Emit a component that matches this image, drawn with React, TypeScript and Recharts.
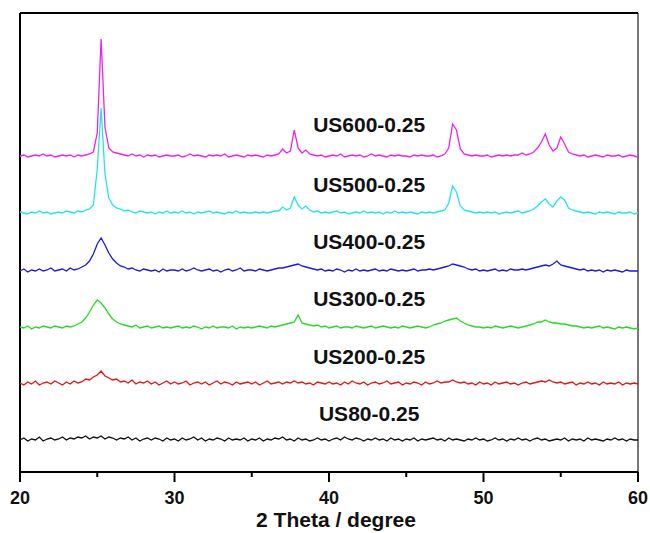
import { LineChart, Line, XAxis, YAxis, ReferenceLine, ReferenceDot } from "recharts";

// 2θ sampling grid (degree)
const angles = [
  20, 20.25, 20.5, 20.75, 21, 21.25, 21.5, 21.75, 22, 22.25, 22.5, 22.75, 23, 23.25, 23.5, 23.75, 24, 24.25, 24.5, 24.75,
  25, 25.25, 25.5, 25.75, 26, 26.25, 26.5, 26.75, 27, 27.25, 27.5, 27.75, 28, 28.25, 28.5, 28.75, 29, 29.25, 29.5, 29.75,
  30, 30.25, 30.5, 30.75, 31, 31.25, 31.5, 31.75, 32, 32.25, 32.5, 32.75, 33, 33.25, 33.5, 33.75, 34, 34.25, 34.5, 34.75,
  35, 35.25, 35.5, 35.75, 36, 36.25, 36.5, 36.75, 37, 37.25, 37.5, 37.75, 38, 38.25, 38.5, 38.75, 39, 39.25, 39.5, 39.75,
  40, 40.25, 40.5, 40.75, 41, 41.25, 41.5, 41.75, 42, 42.25, 42.5, 42.75, 43, 43.25, 43.5, 43.75, 44, 44.25, 44.5, 44.75,
  45, 45.25, 45.5, 45.75, 46, 46.25, 46.5, 46.75, 47, 47.25, 47.5, 47.75, 48, 48.25, 48.5, 48.75, 49, 49.25, 49.5, 49.75,
  50, 50.25, 50.5, 50.75, 51, 51.25, 51.5, 51.75, 52, 52.25, 52.5, 52.75, 53, 53.25, 53.5, 53.75, 54, 54.25, 54.5, 54.75,
  55, 55.25, 55.5, 55.75, 56, 56.25, 56.5, 56.75, 57, 57.25, 57.5, 57.75, 58, 58.25, 58.5, 58.75, 59, 59.25, 59.5, 59.75,
  60,
];

// intensities above each pattern's own baseline (a.u.)
const us600 = [
  1, 2, 0, 1, 2, 1, 3, 1, 2, 0, 1, 2, 1, 2, 0, 2, 1, 2, 3, 5,
  24, 118, 30, 9, 5, 4, 3, 2, 1, 3, 1, 2, 0, 2, 1, 2, 0, 1, 2, 1,
  1, 2, 0, 1, 3, 1, 2, 1, 0, 2, 1, 2, 1, 3, 0, 1, 2, 1, 0, 2,
  1, 2, 1, 0, 2, 1, 2, 3, 8, 4, 6, 27, 9, 4, 7, 3, 2, 1, 2, 0,
  1, 2, 1, 3, 0, 1, 2, 1, 2, 0, 1, 3, 1, 2, 1, 0, 2, 1, 2, 1,
  1, 0, 2, 1, 2, 1, 1, 2, 0, 1, 3, 9, 33, 27, 8, 3, 2, 1, 2, 1,
  1, 2, 0, 1, 2, 1, 2, 1, 2, 2, 4, 2, 3, 5, 9, 15, 23, 12, 6, 9,
  20, 13, 5, 3, 2, 1, 2, 0, 1, 2, 1, 0, 2, 1, 1, 2, 0, 1, 2, 1,
  0,
];
const us500 = [
  2, 1, 0, 2, 1, 3, 1, 2, 0, 1, 2, 1, 3, 2, 1, 3, 2, 4, 5, 9,
  45, 106, 40, 16, 9, 6, 5, 3, 4, 2, 1, 3, 2, 1, 2, 0, 2, 1, 3, 1,
  2, 1, 3, 1, 2, 0, 2, 1, 2, 3, 1, 2, 1, 0, 2, 1, 3, 1, 2, 1,
  1, 2, 1, 2, 1, 2, 3, 3, 7, 4, 6, 17, 9, 5, 8, 4, 2, 3, 1, 2,
  1, 2, 3, 1, 2, 0, 1, 2, 1, 3, 1, 2, 1, 2, 0, 2, 1, 3, 1, 2,
  1, 2, 1, 0, 2, 1, 2, 1, 2, 3, 4, 11, 28, 22, 8, 4, 3, 2, 1, 2,
  1, 2, 1, 2, 0, 1, 2, 1, 2, 3, 1, 2, 3, 5, 8, 12, 15, 10, 7, 13,
  17, 14, 6, 4, 3, 2, 1, 2, 1, 0, 2, 1, 2, 1, 0, 2, 1, 1, 2, 0,
  1,
];
const us400 = [
  1, 3, 0, 2, 1, 3, 1, 2, 4, 1, 2, 3, 1, 4, 2, 3, 5, 7, 11, 18,
  28, 34, 27, 19, 13, 9, 6, 5, 3, 4, 2, 1, 3, 2, 1, 2, 0, 3, 1, 2,
  2, 1, 3, 1, 2, 4, 2, 1, 2, 3, 1, 2, 0, 2, 3, 1, 2, 4, 1, 2,
  2, 1, 3, 2, 1, 2, 3, 4, 4, 5, 6, 7, 8, 6, 5, 4, 3, 2, 3, 1,
  2, 1, 3, 2, 0, 2, 1, 3, 1, 2, 1, 2, 3, 1, 2, 1, 3, 2, 1, 2,
  1, 2, 3, 1, 2, 2, 3, 2, 3, 4, 5, 6, 8, 7, 6, 5, 3, 2, 3, 1,
  2, 1, 2, 3, 1, 2, 1, 3, 2, 2, 3, 2, 3, 4, 5, 6, 7, 6, 8, 11,
  7, 6, 5, 4, 3, 2, 3, 1, 2, 1, 2, 0, 2, 1, 2, 1, 0, 2, 1, 1,
  1,
];
const us300 = [
  2, 1, 3, 0, 2, 1, 3, 2, 1, 3, 2, 1, 3, 2, 3, 5, 7, 11, 17, 24,
  29, 26, 21, 15, 10, 7, 5, 4, 3, 2, 4, 1, 2, 3, 1, 2, 3, 1, 2, 1,
  2, 3, 1, 2, 1, 3, 2, 0, 2, 1, 3, 1, 2, 2, 1, 3, 0, 2, 1, 2,
  1, 2, 3, 2, 1, 3, 2, 3, 4, 5, 6, 7, 14, 6, 5, 4, 3, 4, 2, 3,
  1, 2, 3, 1, 2, 2, 1, 3, 2, 1, 2, 3, 1, 2, 3, 2, 1, 2, 1, 3,
  2, 1, 2, 3, 2, 1, 2, 4, 5, 6, 8, 9, 10, 11, 8, 6, 4, 3, 2, 2,
  1, 2, 1, 3, 2, 1, 2, 3, 2, 1, 2, 3, 4, 5, 7, 7, 9, 7, 6, 6,
  5, 5, 4, 3, 3, 2, 1, 2, 1, 2, 3, 1, 2, 1, 0, 2, 1, 2, 1, 0,
  1,
];
const us200 = [
  2, 0, 3, 1, 4, 0, 2, 3, 1, 4, 2, 0, 3, 1, 4, 2, 3, 6, 5, 8,
  10, 14, 9, 7, 5, 6, 3, 4, 2, 5, 1, 3, 2, 4, 1, 3, 0, 2, 4, 1,
  3, 1, 2, 4, 0, 2, 3, 1, 3, 0, 2, 4, 1, 3, 2, 0, 3, 1, 2, 3,
  1, 3, 0, 2, 4, 1, 2, 3, 1, 3, 2, 4, 2, 3, 1, 2, 0, 3, 2, 1,
  3, 1, 2, 0, 3, 1, 4, 2, 1, 3, 0, 2, 3, 1, 2, 4, 1, 2, 3, 0,
  2, 1, 3, 2, 0, 3, 1, 2, 4, 2, 3, 3, 5, 3, 2, 3, 1, 2, 0, 3,
  1, 2, 0, 3, 1, 2, 3, 1, 2, 0, 2, 3, 1, 2, 3, 4, 3, 5, 3, 2,
  3, 1, 2, 3, 0, 2, 1, 3, 1, 2, 0, 3, 1, 2, 1, 3, 0, 2, 1, 2,
  1,
];
const us80 = [
  1, 3, 0, 2, 1, 4, 0, 2, 3, 1, 2, 4, 1, 3, 2, 4, 3, 5, 2, 4,
  3, 5, 2, 4, 3, 1, 3, 2, 4, 1, 3, 0, 2, 3, 1, 3, 2, 0, 3, 1,
  2, 0, 3, 1, 2, 4, 1, 3, 0, 2, 1, 3, 2, 0, 3, 1, 2, 1, 3, 0,
  2, 1, 3, 0, 2, 1, 3, 2, 4, 1, 2, 0, 3, 1, 2, 0, 1, 3, 1, 2,
  0, 2, 3, 1, 4, 2, 1, 3, 2, 0, 2, 1, 3, 1, 2, 0, 3, 1, 2, 0,
  2, 1, 3, 0, 2, 1, 2, 3, 1, 2, 0, 3, 1, 2, 1, 0, 2, 1, 3, 1,
  2, 0, 1, 3, 1, 2, 0, 2, 1, 3, 1, 2, 0, 2, 3, 1, 2, 0, 1, 2,
  1, 3, 0, 2, 1, 2, 0, 3, 1, 2, 1, 0, 2, 1, 3, 1, 2, 0, 2, 1,
  1,
];

const seriesNames = ["US600-0.25", "US500-0.25", "US400-0.25", "US300-0.25", "US200-0.25", "US80-0.25"];
const seriesValues = [us600, us500, us400, us300, us200, us80];
const xTicks = [20, 25, 30, 35, 40, 45, 50, 55, 60];

// vertical stacking of the patterns and label placement
const offsets = [315, 258, 200, 143, 87, 31];
const labelLevels = [347, 287, 230, 173, 115, 58];
const labelAngle = 42.6;
const colors = ["#ee22ee", "#22e6e6", "#1a1ae6", "#22dd22", "#ee1111", "#111111"];

const data = angles.map((angle, i) => {
  const row: Record<string, number> = { angle };
  seriesValues.forEach((vals, s) => {
    row["s" + s] = offsets[s] + vals[i];
  });
  return row;
});

function AngleTick({ x, y, payload }: any) {
  const major = payload.value % 10 === 0;
  return (
    <g>
      <line x1={x} x2={x} y1={y} y2={y + (major ? 10 : 5)} stroke="#000" strokeWidth={2} />
      {major && (
        <text x={x} y={y + 32} textAnchor="middle" fontSize={18} fontWeight="bold" fill="#111">
          {payload.value}
        </text>
      )}
    </g>
  );
}

export default function App() {
  return (
    <div style={{ position: "absolute", left: 0, top: 0, fontFamily: "'Liberation Sans', Arial, sans-serif" }}>
      <LineChart width={650} height={533} data={data} margin={{ top: 13, right: 12, left: 20, bottom: 0 }}>
        <XAxis
          dataKey="angle"
          type="number"
          domain={[20, 60]}
          ticks={xTicks}
          interval={0}
          tickSize={0}
          tickMargin={0}
          tickLine={false}
          tick={AngleTick}
          axisLine={{ stroke: "#000", strokeWidth: 2 }}
          height={61}
          label={{ value: "2 Theta / degree", position: "insideBottom", offset: 6, dx: 7, fontSize: 21, fontWeight: "bold", fill: "#111" }}
        />
        <YAxis type="number" domain={[0, 459]} hide />
        <ReferenceLine x={20} stroke="#000" strokeWidth={2} />
        <ReferenceLine x={60} stroke="#777" strokeWidth={2} />
        <ReferenceLine y={459} stroke="#000" strokeWidth={2} />
        {seriesNames.map((name, s) => (
          <Line
            key={name}
            dataKey={"s" + s}
            name={name}
            stroke={colors[s]}
            strokeWidth={1.3}
            dot={false}
            type="linear"
            isAnimationActive={false}
          />
        ))}
        {seriesNames.map((name, s) => (
          <ReferenceDot
            key={"lbl" + name}
            x={labelAngle}
            y={labelLevels[s]}
            r={0}
            fill="none"
            stroke="none"
            label={{ value: name, fontSize: 21, fontWeight: "bold", fill: "#111" }}
          />
        ))}
      </LineChart>
    </div>
  );
}
